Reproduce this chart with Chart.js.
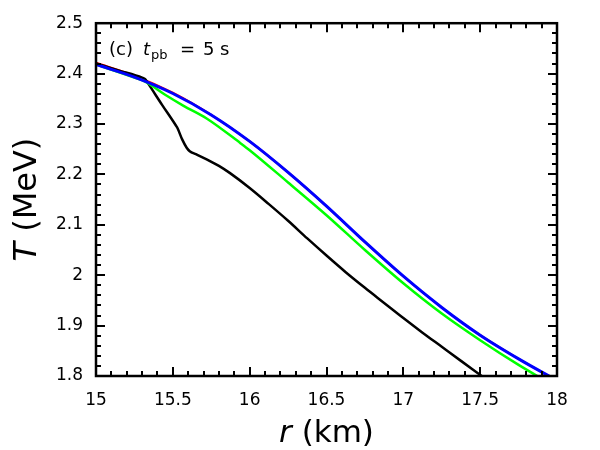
<!DOCTYPE html>
<html>
<head>
<meta charset="utf-8">
<script src="https://cdn.jsdelivr.net/npm/chart.js@4/dist/chart.umd.min.js"></script>
<style>
html,body{margin:0;padding:0;background:#fff;}
#wrap{width:600px;height:450px;position:relative;}
</style>
</head>
<body>
<div id="wrap"><canvas id="c" width="600" height="450"></canvas></div>
<script>
// ---- data (r in km, T in MeV) ----
const rBlack = [15.0, 15.15, 15.3, 15.32, 15.34, 15.43, 15.52, 15.53, 15.56, 15.59, 15.61, 15.65, 15.72, 15.8, 15.87, 16.0, 16.125, 16.25, 16.375, 16.5, 16.625, 16.75, 16.875, 17.0, 17.125, 17.25, 17.375, 17.51];
const tBlack = [2.420, 2.406, 2.392, 2.389, 2.380, 2.338, 2.297, 2.292, 2.270, 2.253, 2.246, 2.240, 2.230, 2.217, 2.203, 2.173, 2.141, 2.108, 2.073, 2.039, 2.006, 1.975, 1.945, 1.915, 1.886, 1.858, 1.830, 1.800];

const rGreen = [15.0, 15.25, 15.32, 15.45, 15.57, 15.72, 15.94, 16.0, 16.25, 16.5, 16.75, 17.0, 17.25, 17.5, 17.75, 18.0];
const tGreen = [2.418, 2.392, 2.384, 2.358, 2.336, 2.311, 2.262, 2.248, 2.184, 2.119, 2.050, 1.984, 1.924, 1.871, 1.822, 1.777];

const rBlue = [15.0, 15.25, 15.5, 15.75, 16.0, 16.25, 16.5, 16.75, 17.0, 17.25, 17.5, 17.75, 18.0];
const tBlue = [2.418, 2.393, 2.3605, 2.318, 2.2655, 2.204, 2.137, 2.066, 1.998, 1.936, 1.881, 1.834, 1.791];

const rRed = [15.0, 15.25, 15.5, 15.75, 16.0, 16.25, 16.5, 16.75, 17.0, 17.25, 17.5, 17.75, 18.0];
const tRed = [2.4215, 2.396, 2.362, 2.318, 2.2655, 2.204, 2.137, 2.066, 1.998, 1.936, 1.881, 1.834, 1.791];

const xTicks = [15, 15.5, 16, 16.5, 17, 17.5, 18];
const yTicks = [1.8, 1.9, 2.0, 2.1, 2.2, 2.3, 2.4, 2.5];

const pts = (xs, ys) => xs.map((x, i) => ({x: x, y: ys[i]}));

const FONT = '"DejaVu Sans", sans-serif';

// ---- plugin: frame, inward ticks, titles, annotation ----
const decor = {
  id: 'decor',
  afterDatasetsDraw(chart) {
    const ctx = chart.ctx, a = chart.chartArea;
    const xs = chart.scales.x, ys = chart.scales.y;
    ctx.save();
    ctx.strokeStyle = '#000';
    ctx.lineCap = 'butt';
    ctx.lineWidth = 2;
    const nearInt = v => Math.abs(v - Math.round(v)) < 1e-6;
    for (let k = 0; k <= 30; k++) {
      const v = 15 + k * 0.1;
      const px = Math.round(xs.getPixelForValue(v));
      const L = nearInt(v * 2) ? 9 : 5;
      ctx.beginPath();
      ctx.moveTo(px, a.bottom); ctx.lineTo(px, a.bottom - L);
      ctx.moveTo(px, a.top); ctx.lineTo(px, a.top + L);
      ctx.stroke();
    }
    for (let k = 0; k <= 35; k++) {
      const v = 1.8 + k * 0.02;
      const py = Math.round(ys.getPixelForValue(v));
      const L = nearInt(v * 10) ? 9 : 5;
      ctx.beginPath();
      ctx.moveTo(a.left, py); ctx.lineTo(a.left + L, py);
      ctx.moveTo(a.right, py); ctx.lineTo(a.right - L, py);
      ctx.stroke();
    }
    ctx.lineWidth = 2.5;
    ctx.strokeRect(a.left, a.top, a.right - a.left, a.bottom - a.top);

    ctx.fillStyle = '#000';
    ctx.textBaseline = 'alphabetic';
    ctx.textAlign = 'left';
    // x title: r (km)
    const cx = (a.left + a.right) / 2;
    ctx.font = 'italic 31px ' + FONT;
    const w1 = ctx.measureText('r').width;
    ctx.font = '31px ' + FONT;
    const w2 = ctx.measureText(' (km)').width;
    const x0 = cx - (w1 + w2) / 2;
    ctx.font = 'italic 31px ' + FONT;
    ctx.fillText('r', x0, 442);
    ctx.font = '31px ' + FONT;
    ctx.fillText(' (km)', x0 + w1, 442);

    // y title: T (MeV)
    const cy = (a.top + a.bottom) / 2;
    ctx.save();
    ctx.translate(36, cy);
    ctx.rotate(-Math.PI / 2);
    ctx.font = 'italic 32px ' + FONT;
    const v1 = ctx.measureText('T').width;
    ctx.font = '32px ' + FONT;
    const v2 = ctx.measureText(' (MeV)').width;
    const y0 = -(v1 + v2) / 2;
    ctx.font = 'italic 32px ' + FONT;
    ctx.fillText('T', y0, 0);
    ctx.font = '32px ' + FONT;
    ctx.fillText(' (MeV)', y0 + v1, 0);
    ctx.restore();

    // annotation (c) t_pb = 5 s
    const ty = 55;
    ctx.font = '18px ' + FONT;
    ctx.fillText('(c)', 109, ty);
    ctx.font = 'italic 18px ' + FONT;
    ctx.fillText('t', 143, ty);
    ctx.font = '13px ' + FONT;
    ctx.fillText('pb', 151, ty + 4);
    ctx.font = '18px ' + FONT;
    ctx.fillText('=', 180, ty);
    ctx.fillText('5', 203, ty);
    ctx.fillText('s', 220, ty);
    ctx.restore();
  }
};

new Chart(document.getElementById('c'), {
  type: 'line',
  data: {
    datasets: [
      {label: 'blue', data: pts(rBlue, tBlue), borderColor: '#0000ff', borderWidth: 3, pointRadius: 0, cubicInterpolationMode: 'monotone', fill: false},
      {label: 'green', data: pts(rGreen, tGreen), borderColor: '#00ff00', borderWidth: 2.5, pointRadius: 0, cubicInterpolationMode: 'monotone', fill: false},
      {label: 'black', data: pts(rBlack, tBlack), borderColor: '#000000', borderWidth: 2.5, pointRadius: 0, cubicInterpolationMode: 'monotone', fill: false},
      {label: 'red', data: pts(rRed, tRed), borderColor: '#ff0000', borderWidth: 2, pointRadius: 0, cubicInterpolationMode: 'monotone', fill: false}
    ]
  },
  options: {
    responsive: false,
    animation: false,
    devicePixelRatio: 1,
    layout: {padding: {top: 22, right: 43, left: 0, bottom: 0}},
    plugins: {legend: {display: false}, tooltip: {enabled: false}},
    scales: {
      x: {
        type: 'linear', min: 15, max: 18,
        afterBuildTicks: s => { s.ticks = xTicks.map(v => ({value: v})); },
        afterFit: s => { s.height = 74; },
        grid: {display: false, drawTicks: false},
        border: {display: false},
        ticks: {color: '#000', font: {family: FONT, size: 17}, padding: 14, maxRotation: 0,
                callback: v => String(+Number(v).toFixed(1))}
      },
      y: {
        type: 'linear', min: 1.8, max: 2.5,
        afterBuildTicks: s => { s.ticks = yTicks.map(v => ({value: v})); },
        afterFit: s => { s.width = 96; },
        grid: {display: false, drawTicks: false},
        border: {display: false},
        ticks: {color: '#000', font: {family: FONT, size: 17}, padding: 13,
                callback: v => String(+Number(v).toFixed(1))}
      }
    }
  },
  plugins: [decor]
});
</script>
</body>
</html>
